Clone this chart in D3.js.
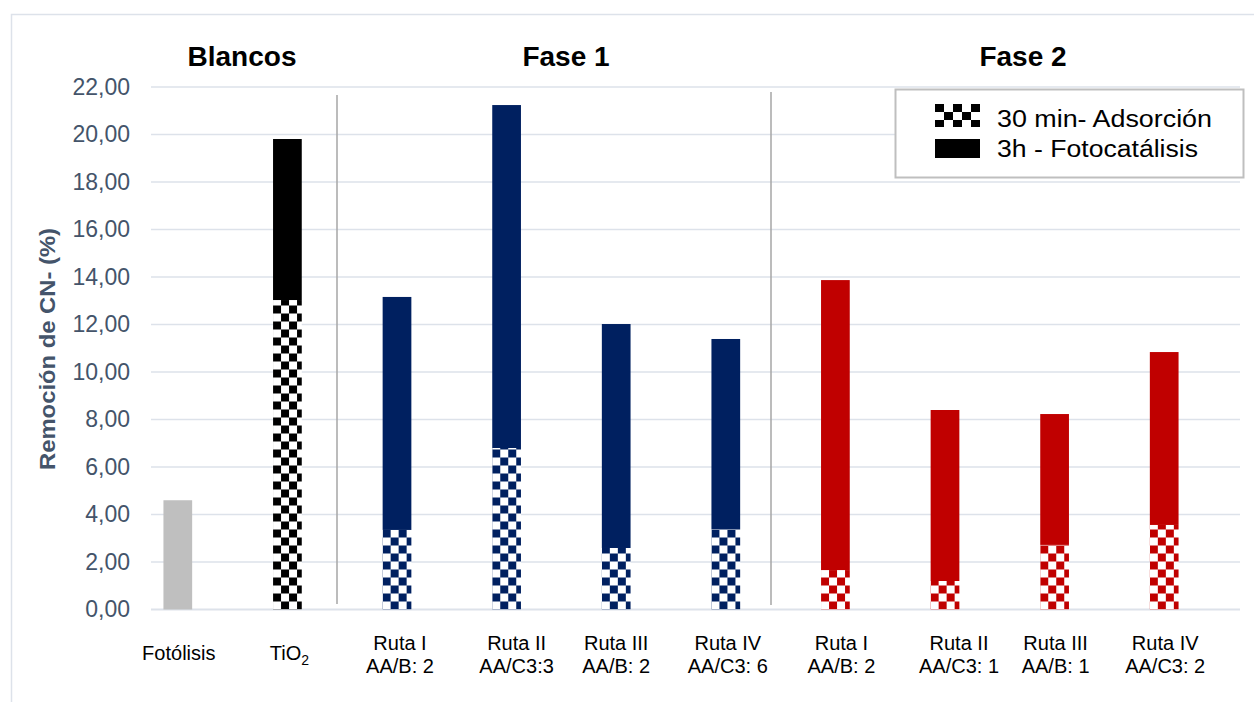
<!DOCTYPE html>
<html>
<head>
<meta charset="utf-8">
<script src="https://cdn.jsdelivr.net/npm/d3@7"></script>
<style>
  html, body { margin: 0; padding: 0; background: #fff; }
  svg { display: block; font-family: "Liberation Sans", Arial, sans-serif; }
</style>
</head>
<body>
<svg id="chart" width="1254" height="702"></svg>
<script>
// Category labels (two lines where needed)
const categories = ["Fotólisis", "TiO2", "Ruta I F1", "Ruta II F1", "Ruta III F1", "Ruta IV F1",
                    "Ruta I F2", "Ruta II F2", "Ruta III F2", "Ruta IV F2"];
const labelLine1 = ["Fotólisis", "TiO", "Ruta I", "Ruta II", "Ruta III", "Ruta IV",
                    "Ruta I", "Ruta II", "Ruta III", "Ruta IV"];
const labelLine2 = ["", "", "AA/B: 2", "AA/C3:3", "AA/B: 2", "AA/C3: 6",
                    "AA/B: 2", "AA/C3: 1", "AA/B: 1", "AA/C3: 2"];
const groups = ["fotolisis", "tio2", "fase1", "fase1", "fase1", "fase1",
                "fase2", "fase2", "fase2", "fase2"];

// Removal (%) after 30 min adsorption and the additional removal after 3 h photocatalysis
const adsorcion      = [0.00, 13.03, 3.35, 6.80, 2.59, 3.39, 1.66, 1.20, 2.72, 3.56];
const fotocatalisis  = [4.60, 6.78, 9.81, 14.44, 9.43, 8.00, 12.21, 7.20, 5.51, 7.28];

const yTicks = [0, 2, 4, 6, 8, 10, 12, 14, 16, 18, 20, 22];
const sectionTitles = ["Blancos", "Fase 1", "Fase 2"];
const legendLabels = ["30 min- Adsorción", "3h - Fotocatálisis"];

const svg = d3.select("#chart");

const color = d3.scaleOrdinal()
  .domain(["fotolisis", "tio2", "fase1", "fase2"])
  .range(["#bfbfbf", "#000000", "#002060", "#c00000"]);

const x = d3.scaleBand().domain(categories).range([123, 1219]).padding(0);
const y = d3.scaleLinear().domain([0, 22]).range([609.5, 87]);
const barW = x.bandwidth() * 0.262;
const cell = 8;

// small horizontal nudges of the category text boxes
const labelNudge = [1, 2, 3, 10, 0, 2, 6, 14, 1, 1];

const locale = d3.formatLocale({ decimal: ",", thousands: ".", grouping: [3], currency: ["", ""] });
const fmt = locale.format(".2f");

// outer frame
svg.append("rect").attr("x", 11.5).attr("y", 14.5).attr("width", 1260).attr("height", 700)
  .attr("fill", "none").attr("stroke", "#dde2ea").attr("stroke-width", 1.5);

// checker patterns, one per bar so each tiles from its own left edge and the baseline
const defs = svg.append("defs");
categories.forEach((c, i) => {
  const p = defs.append("pattern")
    .attr("id", "chk" + i)
    .attr("patternUnits", "userSpaceOnUse")
    .attr("x", x(c) + (x.bandwidth() - barW) / 2)
    .attr("y", y(0))
    .attr("width", cell * 2).attr("height", cell * 2);
  p.append("rect").attr("width", cell * 2).attr("height", cell * 2).attr("fill", "#fff");
  p.append("rect").attr("x", 0).attr("y", 0).attr("width", cell).attr("height", cell).attr("fill", color(groups[i]));
  p.append("rect").attr("x", cell).attr("y", cell).attr("width", cell).attr("height", cell).attr("fill", color(groups[i]));
});
const lp = defs.append("pattern").attr("id", "chkLegend").attr("patternUnits", "userSpaceOnUse")
  .attr("x", 935).attr("y", 104).attr("width", 18).attr("height", 16);
lp.append("rect").attr("width", 18).attr("height", 16).attr("fill", "#fff");
lp.append("rect").attr("width", 9).attr("height", 8).attr("fill", "#000");
lp.append("rect").attr("x", 9).attr("y", 8).attr("width", 9).attr("height", 8).attr("fill", "#000");

// gridlines
const gridX0 = 151, gridX1 = 1240;
svg.append("g").selectAll("line").data(yTicks).join("line")
  .attr("x1", gridX0).attr("x2", gridX1)
  .attr("y1", d => y(d)).attr("y2", d => y(d))
  .attr("stroke", "#dde2ea").attr("stroke-width", d => d === 0 ? 2 : 1.5);

// y axis tick labels
const yAxis = d3.axisLeft(y).tickValues(yTicks).tickFormat(fmt).tickSize(0).tickPadding(0);
const ga = svg.append("g").attr("transform", "translate(130,0)").call(yAxis);
ga.select(".domain").remove();
ga.selectAll("text").attr("font-size", 23).attr("fill", "#44546a")
  .attr("font-family", "'Liberation Sans', Arial, sans-serif");

// y axis title
svg.append("text")
  .attr("transform", "translate(55,349) rotate(-90)")
  .attr("text-anchor", "middle")
  .attr("font-size", 22).attr("font-weight", "bold").attr("fill", "#44546a")
  .attr("textLength", 242).attr("lengthAdjust", "spacingAndGlyphs")
  .text("Remoción de CN- (%)");

// section separators
svg.append("line").attr("x1", 337).attr("x2", 337).attr("y1", 95).attr("y2", 604)
  .attr("stroke", "#a6a6a6").attr("stroke-width", 1.5);
svg.append("line").attr("x1", 771).attr("x2", 771).attr("y1", 92).attr("y2", 605)
  .attr("stroke", "#a6a6a6").attr("stroke-width", 1.5);

// bars: adsorption (checker) at the bottom, photocatalysis (solid) stacked on top
const bars = svg.append("g");
categories.forEach((c, i) => {
  const bx = x(c) + (x.bandwidth() - barW) / 2;
  const a = adsorcion[i], f = fotocatalisis[i];
  if (a > 0) {
    bars.append("rect").attr("x", bx).attr("width", barW)
      .attr("y", y(a)).attr("height", y(0) - y(a))
      .attr("fill", "url(#chk" + i + ")");
  }
  bars.append("rect").attr("x", bx).attr("width", barW)
    .attr("y", y(a + f)).attr("height", y(a) - y(a + f))
    .attr("fill", color(groups[i]));
});

// category labels
const lab = svg.append("g").attr("font-size", 20).attr("fill", "#000").attr("text-anchor", "middle");
categories.forEach((c, i) => {
  const cx = x(c) + x.bandwidth() / 2 + labelNudge[i];
  if (labelLine2[i]) {
    lab.append("text").attr("x", cx).attr("y", 650).text(labelLine1[i]);
    lab.append("text").attr("x", cx).attr("y", 673).text(labelLine2[i]);
  } else if (labelLine1[i] === "TiO") {
    const t = lab.append("text").attr("x", cx).attr("y", 660);
    t.append("tspan").text("TiO");
    t.append("tspan").attr("font-size", 14).attr("dy", 5).text("2");
  } else {
    lab.append("text").attr("x", cx).attr("y", 660).text(labelLine1[i]);
  }
});

// section titles
const titleX = [242, 566, 1023];
svg.append("g").selectAll("text").data(sectionTitles).join("text")
  .attr("x", (d, i) => titleX[i]).attr("y", 66)
  .attr("text-anchor", "middle").attr("font-size", 28).attr("font-weight", "bold")
  .attr("fill", "#000").text(d => d);

// legend
const legendWidths = [215, 201];
const lg = svg.append("g");
lg.append("rect").attr("x", 895.5).attr("y", 89.5).attr("width", 348).attr("height", 88)
  .attr("fill", "#fff").attr("stroke", "#bfbfbf").attr("stroke-width", 2);
lg.append("rect").attr("x", 935).attr("y", 104).attr("width", 45).attr("height", 23).attr("fill", "url(#chkLegend)");
lg.append("rect").attr("x", 935).attr("y", 139).attr("width", 45).attr("height", 19).attr("fill", "#000");
lg.selectAll("text.lt").data(legendLabels).join("text").attr("class", "lt")
  .attr("x", 997).attr("y", (d, i) => 127 + i * 30)
  .attr("font-size", 23).attr("fill", "#000")
  .attr("textLength", (d, i) => legendWidths[i]).attr("lengthAdjust", "spacingAndGlyphs")
  .text(d => d);
</script>
</body>
</html>
